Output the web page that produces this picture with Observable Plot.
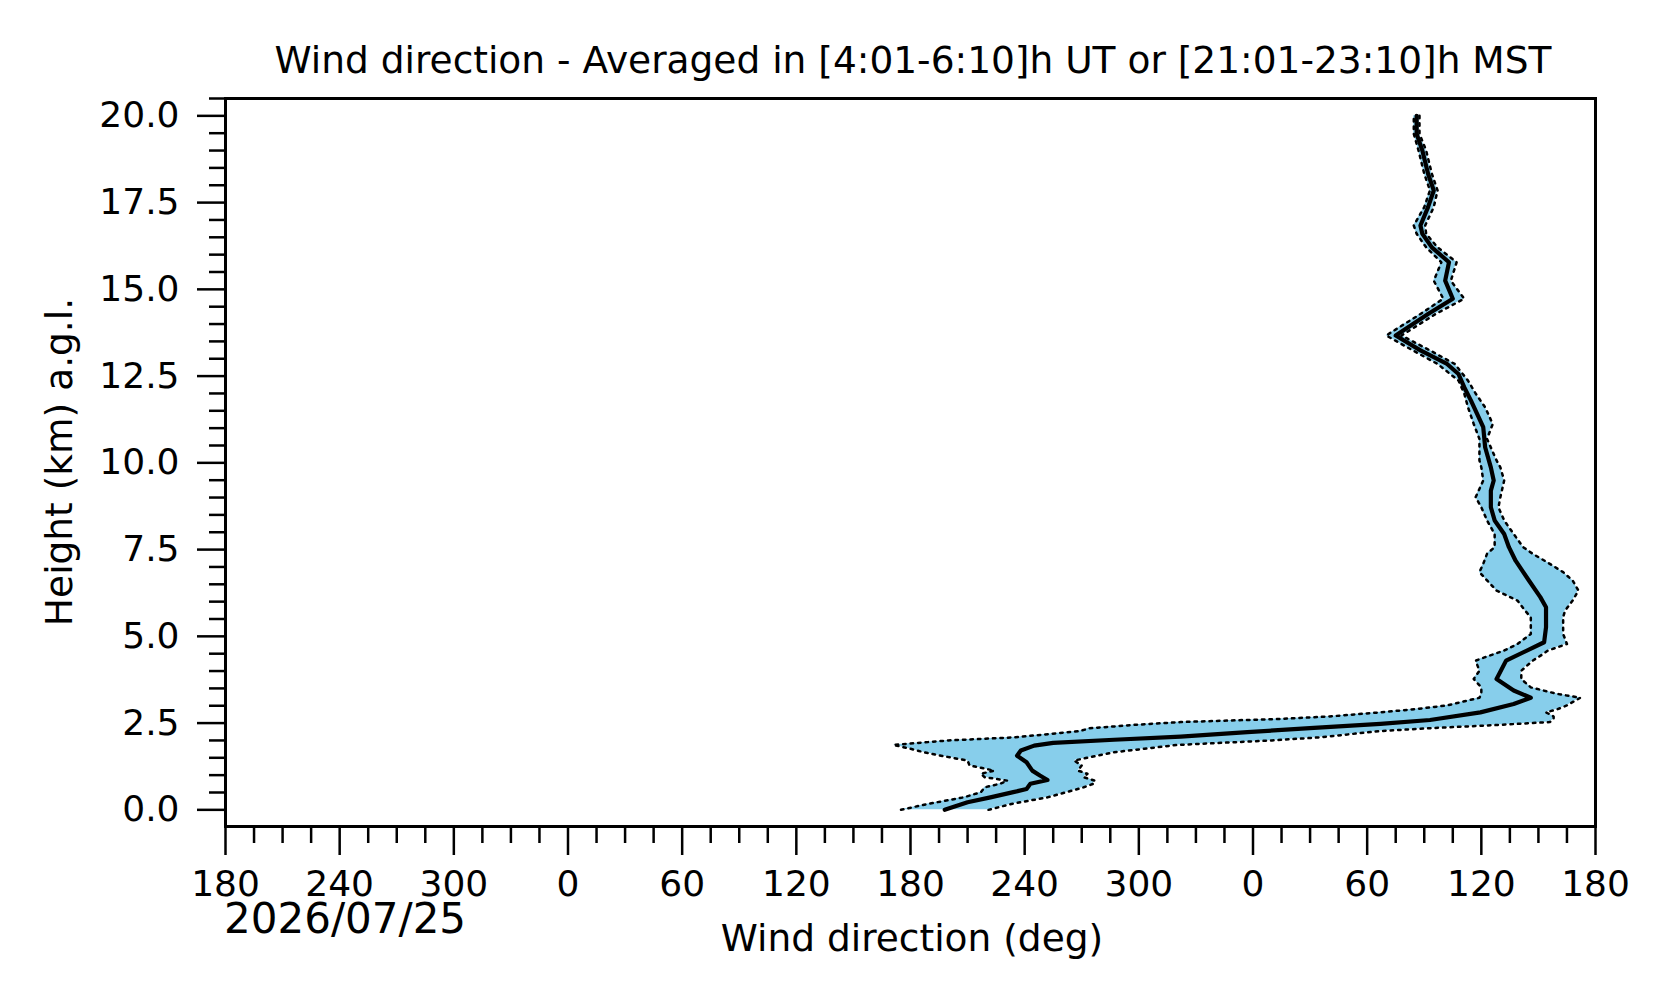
<!DOCTYPE html>
<html>
<head>
<meta charset="utf-8">
<script src="https://cdn.jsdelivr.net/npm/d3@7"></script>
<script src="https://cdn.jsdelivr.net/npm/@observablehq/plot@0.6"></script>
<style>
  html, body { margin: 0; padding: 0; background: #ffffff; }
  #chart { width: 1676px; height: 1003px; }
</style>
</head>
<body>
<div id="chart"></div>
<script>
// ---- Data ----
// Mean wind direction profile (unwrapped degrees) vs height (km a.g.l.)
const meanHeights = [0.0, 0.22, 0.36, 0.51, 0.60, 0.75, 0.86, 0.99, 1.13, 1.37, 1.56, 1.71, 1.85, 1.93, 2.02, 2.11, 2.24, 2.36, 2.48, 2.59, 2.81, 3.05, 3.23, 3.44, 3.77, 4.30, 4.83, 5.26, 5.84, 6.13, 6.61, 7.18, 7.57, 7.95, 8.34, 8.72, 9.20, 9.49, 9.87, 10.45, 11.03, 11.80, 12.18, 12.56, 12.85, 13.24, 13.67, 14.29, 14.73, 15.25, 15.78, 16.21, 16.60, 16.84, 17.37, 17.85, 18.33, 19.00, 19.48, 20.00];
const meanDirection = [198, 210, 222, 234, 241, 243, 252, 248, 244, 241, 236, 238, 245, 255, 287, 322, 357, 392, 427, 453, 479.5, 497, 506, 497, 488, 493, 513, 514, 514, 511, 505, 498, 494.5, 492, 487, 485, 485, 486.5, 485, 482, 481, 474.5, 471, 468, 462, 448, 435, 452, 465, 461, 463, 454, 449, 448, 452, 455, 452, 449, 446, 446];

// Spread band (lower / upper bound, unwrapped degrees) vs height
const bandHeights = [0.0, 0.17, 0.36, 0.51, 0.65, 0.75, 0.84, 0.94, 1.04, 1.13, 1.28, 1.42, 1.56, 1.66, 1.76, 1.87, 2.0, 2.09, 2.27, 2.35, 2.45, 2.53, 2.62, 2.69, 2.81, 2.90, 3.01, 3.23, 3.34, 3.53, 3.77, 4.01, 4.30, 4.40, 4.59, 4.78, 5.07, 5.26, 5.55, 5.74, 6.03, 6.32, 6.61, 6.85, 7.09, 7.38, 7.57, 7.95, 8.34, 8.72, 9.01, 9.49, 9.87, 10.07, 10.69, 11.12, 11.60, 12.00, 12.37, 12.85, 13.24, 13.67, 14.29, 14.73, 15.25, 15.78, 16.21, 16.60, 16.84, 17.37, 17.85, 18.33, 19.00, 19.48, 20.00];
const bandLower = [175, 189, 208, 217, 219, 227, 231, 219, 217, 224, 211, 210, 196, 187, 180, 171, 200, 235, 269, 274, 298, 322, 374, 400, 427, 445, 462, 479, 480, 480, 476, 479, 477, 482, 492, 499, 506, 506, 506, 503, 499, 488, 483, 479, 481, 483, 487, 487, 483, 480, 477, 481, 480, 479, 479, 476, 473, 471, 468, 457, 444, 430, 448, 460, 455, 459, 451, 446, 444.5, 450, 453, 450, 447, 444.5, 444.5];
const bandUpper = [221, 233, 252, 262, 271, 276, 277, 271, 273, 268, 270, 266, 278, 287, 303, 320, 370, 395, 427, 452, 490, 516, 518, 518, 514, 520, 525, 532, 520, 506, 501, 501, 507, 510, 515, 525, 523, 523, 523, 524, 528, 531, 528, 523, 516, 507, 502, 497, 492, 489, 490, 492, 490, 488, 483, 486, 482, 477, 473, 466, 453, 438, 456, 471, 464, 467, 457, 451, 450.5, 455, 457, 454, 451, 447.5, 447.5];

// Axis ticks and labels
const xTickValues = [-180, -120, -60, 0, 60, 120, 180, 240, 300, 360, 420, 480, 540];
const xTickLabels = ["180", "240", "300", "0", "60", "120", "180", "240", "300", "0", "60", "120", "180"];
const xMinorTicks = d3.range(-180, 541, 15).filter(d => !xTickValues.includes(d));
const yTickValues = [0, 2.5, 5, 7.5, 10, 12.5, 15, 17.5, 20];
const yTickLabels = ["0.0", "2.5", "5.0", "7.5", "10.0", "12.5", "15.0", "17.5", "20.0"];
const yMinorTicks = d3.range(0, 20.51, 0.5).filter(d => !yTickValues.includes(d));

const titleText = "Wind direction - Averaged in [4:01-6:10]h UT or [21:01-23:10]h MST";
const xLabelText = "Wind direction (deg)";
const yLabelText = "Height (km) a.g.l.";
const dateText = "2026/07/25";

// ---- Tables built from arrays ----
const meanData = meanHeights.map((h, i) => ({h, dir: meanDirection[i]}));
const bandData = bandHeights.map((h, i) => ({h, lo: bandLower[i], up: bandUpper[i]}));

const W = 1676, H = 1003;
const mL = 225, mR = 81, mT = 98, mB = 177;
const fontFam = "DejaVu Sans, Liberation Sans, sans-serif";

const svg = Plot.plot({
  width: W,
  height: H,
  marginLeft: mL,
  marginRight: mR,
  marginTop: mT,
  marginBottom: mB,
  style: {fontFamily: fontFam, fontSize: "36px", background: "#ffffff", color: "#000000"},
  x: {domain: [-180, 540], axis: null},
  y: {domain: [-0.48, 20.5], axis: null},
  marks: [
    Plot.areaX(bandData, {y: "h", x1: "lo", x2: "up", fill: "#87CEEB", curve: "linear"}),
    Plot.lineX(bandData, {x: "lo", y: "h", stroke: "#000000", strokeWidth: 2.5, strokeDasharray: "2.5,5", curve: "linear"}),
    Plot.lineX(bandData, {x: "up", y: "h", stroke: "#000000", strokeWidth: 2.5, strokeDasharray: "2.5,5", curve: "linear"}),
    Plot.lineX(meanData, {x: "dir", y: "h", stroke: "#000000", strokeWidth: 4.2, curve: "linear"}),
    Plot.axisX({ticks: xMinorTicks, tickSize: 17, strokeWidth: 2.5, tickFormat: () => "", label: null}),
    Plot.axisX({ticks: xTickValues, tickSize: 29, tickPadding: 15, strokeWidth: 2.5, fontSize: 36,
      tickFormat: d => xTickLabels[xTickValues.indexOf(d)], label: null}),
    Plot.axisY({ticks: yMinorTicks, tickSize: 16, strokeWidth: 2.5, tickFormat: () => "", label: null}),
    Plot.axisY({ticks: yTickValues, tickSize: 28, tickPadding: 18, strokeWidth: 2.5, fontSize: 36,
      tickFormat: d => yTickLabels[yTickValues.indexOf(d)], label: null}),
    Plot.frame({stroke: "#000000", strokeWidth: 3})
  ]
});

const s = d3.select(svg);
s.append("text")
  .attr("x", 913).attr("y", 73)
  .attr("text-anchor", "middle").attr("font-size", 37.5).attr("fill", "#000")
  .attr("font-family", fontFam)
  .text(titleText);
s.append("text")
  .attr("x", 912).attr("y", 951)
  .attr("text-anchor", "middle").attr("font-size", 37.5).attr("fill", "#000")
  .attr("font-family", fontFam)
  .text(xLabelText);
s.append("text")
  .attr("transform", `translate(72, ${(mT + (H - mB)) / 2}) rotate(-90)`)
  .attr("text-anchor", "middle").attr("font-size", 37.5).attr("fill", "#000")
  .attr("font-family", fontFam)
  .text(yLabelText);
s.append("text")
  .attr("x", 224).attr("y", 933)
  .attr("text-anchor", "start").attr("font-size", 42).attr("fill", "#000")
  .attr("font-family", fontFam)
  .text(dateText);

document.getElementById("chart").appendChild(svg);
</script>
</body>
</html>
